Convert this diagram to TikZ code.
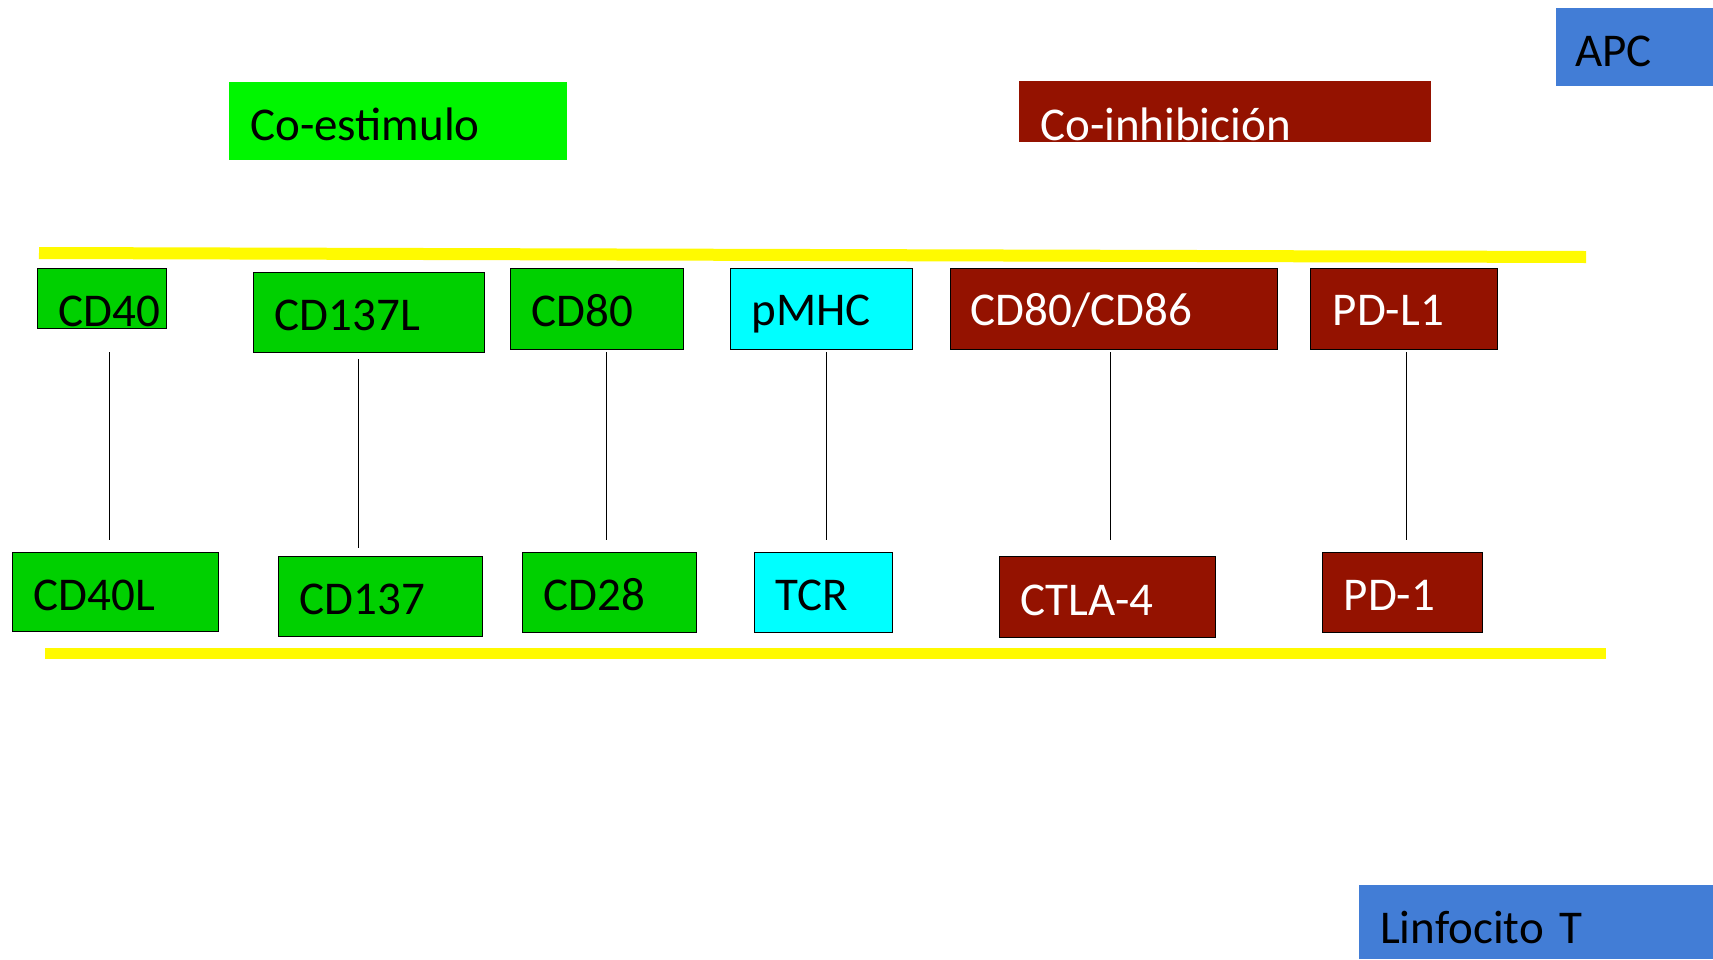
\documentclass[tikz,border=0pt]{standalone}
\usepackage{fontspec}
\setmainfont{Carlito}
\usepackage{tikz}
\hfuzz=\maxdimen
\hbadness=10000
\definecolor{limeg}{RGB}{0,246,0}
\definecolor{boxg}{RGB}{0,208,0}
\definecolor{aqua}{RGB}{0,255,255}
\definecolor{brick}{RGB}{148,18,0}
\definecolor{cellb}{RGB}{66,125,214}
\definecolor{membr}{RGB}{255,250,0}
\tikzset{
  tag/.style  = {anchor=north west, inner xsep=21pt, inner ysep=0pt,
                 text depth=0pt, align=left, minimum height=80pt,
                 text height=36pt, font=\fontsize{47}{56}\selectfont},
  head/.style = {tag},
  gbox/.style = {tag, draw, line width=1.4pt, fill=boxg},
  cbox/.style = {tag, draw, line width=1.4pt, fill=aqua},
  rbox/.style = {tag, draw, line width=1.4pt, fill=brick, text=white},
  link/.style = {line width=1.5pt},
  memb/.style = {line width=12pt, membr}
}
\begin{document}
\begin{tikzpicture}[x=1pt,y=-1pt]
  \fill[white] (0,0) rectangle (1713,959);
  \useasboundingbox (0,0) rectangle (1713,959);
  % membranes
  \draw[memb] (39,253) -- (1586,257);
  \draw[memb, line width=11pt] (45,653.5) -- (1606,653.5);
  % headers
  \node[head, fill=limeg, text width=296pt, minimum height=78pt, text height=38pt] (costim) at (229,82) {Co-estimulo};
  \node[head, fill=brick, text=white, text width=370pt, minimum height=61pt, text height=57pt] (coinh) at (1019,81) {Co-inhibición};
  \node[head, fill=cellb, inner xsep=19pt, text width=119pt, minimum height=78pt, text height=38pt] (apc) at (1556,8) {APC};
  \node[head, fill=cellb, text width=312pt, minimum height=74pt, text height=42pt] (tcell) at (1359,885) {Linfocito T};
  % APC side
  \node[gbox, text width=87pt, minimum height=60pt, text height=56pt] (cd40) at (37,268) {CD40};
  \node[gbox, text width=189pt] (cd137l) at (253,272) {CD137L};
  \node[gbox, text width=131pt, minimum height=81pt, text height=35pt] (cd80) at (510,268) {CD80};
  \node[cbox, text width=140pt, minimum height=81pt, text height=33pt] (pmhc) at (730,268) {pMHC};
  \node[rbox, text width=287pt, inner xsep=20pt, minimum height=81pt, text height=33pt] (cd8086) at (950,268) {CD80/CD86};
  \node[rbox, text width=143pt, inner xsep=22pt, minimum height=81pt, text height=33pt] (pdl1) at (1310,268) {PD-L1};
  % T cell side
  \node[gbox, text width=164pt, minimum height=79pt, text height=37pt] (cd40l) at (12,552) {CD40L};
  \node[gbox, text width=162pt] (cd137) at (278,556) {CD137};
  \node[gbox, text width=132pt] (cd28) at (522,552) {CD28};
  \node[cbox, text width=96pt] (tcr) at (754,552) {TCR};
  \node[rbox, text width=174pt, minimum height=81pt, text height=37pt] (ctla) at (999,556) {CTLA-4};
  \node[rbox, text width=118pt] (pd1) at (1322,552) {PD-1};
  % pairs
  \draw[link] ([xshift=7.5pt,yshift=-23pt]cd40.south) -- ([xshift=-6pt,yshift=12pt]cd40l.north);
  \draw[link] ([xshift=-10.5pt,yshift=-6pt]cd137l.south) -- ([xshift=-22pt,yshift=8pt]cd137.north);
  \draw[link] ([xshift=9.5pt,yshift=-2pt]cd80.south) -- ([xshift=-3pt,yshift=12pt]cd28.north);
  \draw[link] ([xshift=5pt,yshift=-2pt]pmhc.south) -- ([xshift=3pt,yshift=12pt]tcr.north);
  \draw[link] ([xshift=-3.5pt,yshift=-2pt]cd8086.south) -- ([xshift=3pt,yshift=16pt]ctla.north);
  \draw[link] ([xshift=2.5pt,yshift=-2pt]pdl1.south) -- ([xshift=4pt,yshift=12pt]pd1.north);
\end{tikzpicture}
\end{document}
